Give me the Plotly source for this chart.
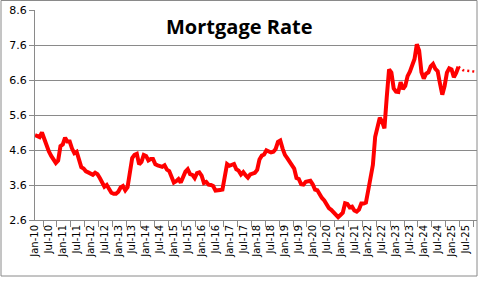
import plotly.graph_objects as go

tick_labels = ["Jan-10", "Jul-10", "Jan-11", "Jul-11", "Jan-12", "Jul-12", "Jan-13", "Jul-13",
               "Jan-14", "Jul-14", "Jan-15", "Jul-15", "Jan-16", "Jul-16", "Jan-17", "Jul-17",
               "Jan-18", "Jul-18", "Jan-19", "Jul-19", "Jan-20", "Jul-20", "Jan-21", "Jul-21",
               "Jan-22", "Jul-22", "Jan-23", "Jul-23", "Jan-24", "Jul-24", "Jan-25", "Jul-25"]

# Monthly 30-yr mortgage rate, Jan-10 .. Apr-25
rate = [
    5.03, 4.99, 4.97, 5.10, 4.89, 4.74, 4.56, 4.43, 4.35, 4.23, 4.30, 4.71,  # 2010
    4.76, 4.95, 4.84, 4.84, 4.64, 4.51, 4.55, 4.27, 4.11, 4.07, 3.99, 3.96,  # 2011
    3.92, 3.89, 3.95, 3.91, 3.80, 3.68, 3.55, 3.60, 3.50, 3.38, 3.35, 3.35,  # 2012
    3.41, 3.53, 3.57, 3.45, 3.54, 4.07, 4.37, 4.46, 4.49, 4.19, 4.26, 4.46,  # 2013
    4.43, 4.30, 4.34, 4.34, 4.19, 4.16, 4.13, 4.12, 4.16, 4.04, 4.00, 3.86,  # 2014
    3.67, 3.71, 3.77, 3.67, 3.84, 3.98, 4.05, 3.91, 3.89, 3.80, 3.94, 3.96,  # 2015
    3.87, 3.66, 3.69, 3.61, 3.60, 3.57, 3.44, 3.44, 3.46, 3.47, 3.77, 4.20,  # 2016
    4.15, 4.17, 4.20, 4.05, 4.01, 3.90, 3.97, 3.88, 3.81, 3.90, 3.92, 3.95,  # 2017
    4.03, 4.33, 4.44, 4.47, 4.59, 4.57, 4.53, 4.55, 4.63, 4.83, 4.87, 4.64,  # 2018
    4.46, 4.37, 4.27, 4.14, 4.07, 3.80, 3.77, 3.62, 3.61, 3.69, 3.70, 3.72,  # 2019
    3.62, 3.47, 3.45, 3.31, 3.23, 3.16, 3.02, 2.94, 2.89, 2.83, 2.77, 2.68,  # 2020
    2.74, 2.81, 3.08, 3.06, 2.96, 2.98, 2.87, 2.84, 2.90, 3.07, 3.07, 3.10,  # 2021
    3.45, 3.76, 4.17, 4.98, 5.23, 5.52, 5.41, 5.22, 6.11, 6.90, 6.81, 6.36,  # 2022
    6.27, 6.26, 6.54, 6.34, 6.43, 6.71, 6.84, 7.07, 7.20, 7.62, 7.44, 6.82,  # 2023
    6.64, 6.78, 6.82, 6.99, 7.06, 6.92, 6.85, 6.50, 6.18, 6.43, 6.81, 6.93,  # 2024
    6.90, 6.68, 6.80, 6.98,                                                  # 2025
]

# Projection, Apr-25 .. Dec-25 (dotted)
forecast = [6.98, 6.92, 6.88, 6.87, 6.86, 6.85, 6.84, 6.83, 6.83]

GRAY = "#8a8a8a"
RED = "#ff0000"

x_rate = list(range(len(rate)))
x_fc = list(range(len(rate) - 1, len(rate) - 1 + len(forecast)))
n_total = len(rate) - 1 + len(forecast)

fig = go.Figure()
fig.add_trace(go.Scatter(x=x_rate, y=rate, mode="lines",
                         line=dict(color=RED, width=4), showlegend=False, hoverinfo="skip"))
fig.add_trace(go.Scatter(x=x_fc, y=forecast, mode="lines",
                         line=dict(color=RED, width=2.5, dash="2px,3px"), showlegend=False, hoverinfo="skip"))

fig.update_layout(
    width=479, height=281,
    margin=dict(l=35, r=2, t=10, b=61),
    paper_bgcolor="white", plot_bgcolor="white",
    showlegend=False,
    font=dict(family="DejaVu Sans", size=10, color="#000000"),
    xaxis=dict(
        range=[0, n_total - 1],
        tickmode="array",
        tickvals=[i * 6 for i in range(len(tick_labels))],
        ticktext=tick_labels,
        tickangle=-90,
        ticks="",
        showgrid=False,
        showline=True, linecolor=GRAY, linewidth=1,
        zeroline=False,
        tickfont=dict(family="DejaVu Sans", size=10, color="#000000"),
        minor=dict(tick0=3.5, dtick=6, ticks="outside", ticklen=6, tickcolor=GRAY, tickwidth=1, showgrid=False),
    ),
    yaxis=dict(
        range=[2.6, 8.6],
        tick0=2.6, dtick=1,
        tickformat=".1f",
        ticks="outside", ticklen=5, tickcolor=GRAY,
        showgrid=True, gridcolor=GRAY, gridwidth=1,
        showline=True, linecolor=GRAY, linewidth=1,
        zeroline=False,
        tickfont=dict(family="DejaVu Sans", size=11, color="#000000"),
    ),
    shapes=[dict(type="rect", xref="paper", yref="paper",
                 x0=-34 / 442, x1=1.0, y0=(220 - 276) / 210, y1=(220 - 0.5) / 210,
                 line=dict(color=GRAY, width=1), fillcolor="rgba(0,0,0,0)", layer="above")],
    annotations=[dict(text="<b>Mortgage Rate</b>", xref="paper", yref="paper",
                      x=(238.5 - 35) / 442, y=(220 - 26.5) / 210,
                      xanchor="center", yanchor="middle", showarrow=False,
                      font=dict(family="Open Sans", size=20, color="#000000"))],
)

fig.write_html("out.html")
